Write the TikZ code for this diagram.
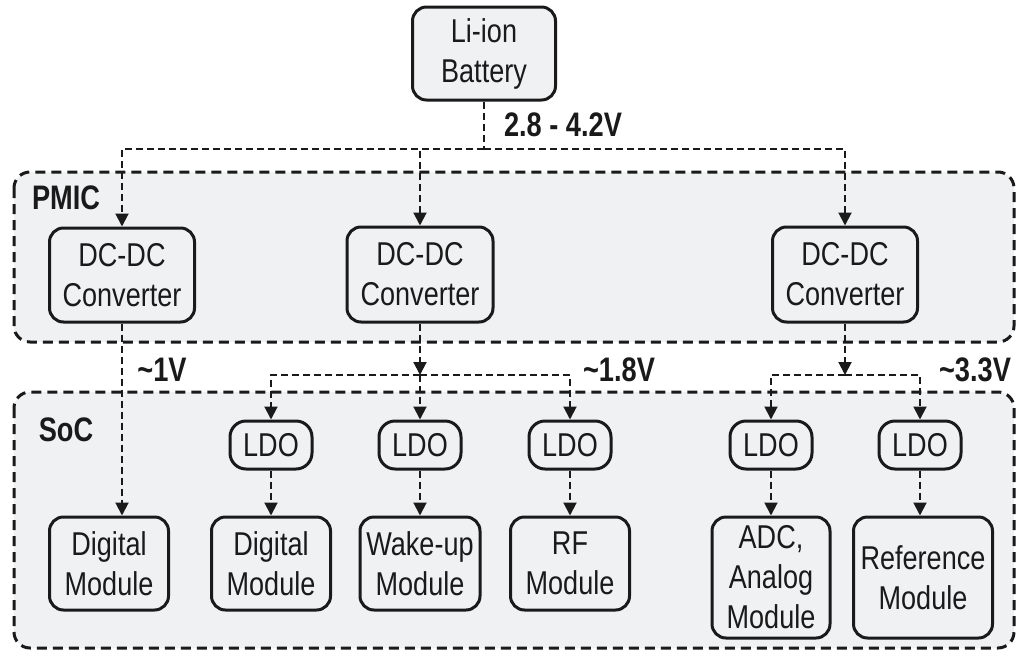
\documentclass[tikz,border=0pt]{standalone}
\usepackage{fontspec}
\setmainfont{Liberation Sans}[FakeStretch=0.82]
\newfontfamily\lblfont{Liberation Sans}[FakeStretch=0.8]
\usetikzlibrary{arrows.meta}
\definecolor{regionfill}{HTML}{F0F1F3}
\definecolor{ink}{HTML}{1A1A1A}
\tikzset{
  region/.style={draw=ink, line width=3pt, dash pattern=on 10pt off 6pt, fill=regionfill, rounded corners=16pt},
  blk/.style={draw=ink, line width=3pt, rounded corners=14pt, fill=regionfill, align=center, inner sep=0pt,
    font=\fontsize{33}{40}\selectfont, text=ink},
  ldoblk/.style={blk, rounded corners=16pt, minimum width=82pt, minimum height=48pt},
  conn/.style={draw=ink, line width=2pt, dash pattern=on 7pt off 4pt},
  arr/.style={-{Triangle[length=13pt,width=13pt]}},
  lbl/.style={font=\lblfont\bfseries\fontsize{34}{36}\selectfont, text=ink, inner sep=0pt},
}
\begin{document}
\begin{tikzpicture}[x=1pt,y=-1pt]
\useasboundingbox (0,0) rectangle (1018,651);
% regions
\path[region] (14,172) rectangle (1014,342);
\path[region] (14,392) rectangle (1014,648);
\node[lbl] (pmic) at (66,198) {PMIC};
\node[lbl] (soc) at (66,430) {SoC};
% battery
\node[blk, minimum width=143pt, minimum height=93pt] (bat) at (484,53.5) {Li-ion\\Battery};
% converters
\node[blk, minimum width=145pt, minimum height=94pt] (dc1) at (122,275) {DC-DC\\Converter};
\node[blk, minimum width=146pt, minimum height=95pt] (dc2) at (420,274.5) {DC-DC\\Converter};
\node[blk, minimum width=145pt, minimum height=95pt] (dc3) at (845,274.5) {DC-DC\\Converter};
% LDOs
\node[ldoblk] (ldo1) at (271,445) {LDO};
\node[ldoblk] (ldo2) at (420,445) {LDO};
\node[ldoblk] (ldo3) at (570,445) {LDO};
\node[ldoblk] (ldo4) at (771,445) {LDO};
\node[ldoblk] (ldo5) at (920,445) {LDO};
% modules
\node[blk, minimum width=119pt, minimum height=93pt] (dm1) at (109,563.5) {Digital\\Module};
\node[blk, minimum width=119pt, minimum height=93pt] (dm2) at (271,563.5) {Digital\\Module};
\node[blk, minimum width=120pt, minimum height=93pt] (wake) at (420,563.5) {Wake-up\\Module};
\node[blk, minimum width=119pt, minimum height=93pt] (rf) at (570,563.5) {RF\\Module};
\node[blk, minimum width=118pt, minimum height=121pt] (adc) at (771,577.5) {ADC,\\Analog\\Module};
\node[blk, minimum width=139pt, minimum height=121pt] (ref) at (923,577.5) {Reference\\Module};
% coordinates
\coordinate (bus) at (484,149);
\coordinate (j2) at (420,375);
\coordinate (j3) at (845,375);
% connectors
\draw[conn] (bat.south) -- (bus);
\draw[conn,arr] (bus) -| (dc1.north);
\draw[conn,arr] (bus) -| (dc2.north);
\draw[conn,arr] (bus) -| (dc3.north);
\draw[conn,arr] (dc1.south) -- (dc1.south |- dm1.north);
\draw[conn,arr] (dc2.south) -- (j2);
\draw[conn,arr] (j2) -- (ldo2.north);
\draw[conn,arr] (j2) -| (ldo1.north);
\draw[conn,arr] (j2) -| (ldo3.north);
\draw[conn,arr] (dc3.south) -- (j3);
\draw[conn,arr] (j3) -| (ldo4.north);
\draw[conn,arr] (j3) -| (ldo5.north);
\draw[conn,arr] (ldo1.south) -- (dm2.north);
\draw[conn,arr] (ldo2.south) -- (wake.north);
\draw[conn,arr] (ldo3.south) -- (rf.north);
\draw[conn,arr] (ldo4.south) -- (adc.north);
\draw[conn,arr] (ldo5.south) -- (ldo5.south |- ref.north);
% voltage labels
\node[lbl] (v1) at (563,125) {2.8 - 4.2V};
\node[lbl] (v2) at (162,370) {\textasciitilde 1V};
\node[lbl] (v3) at (619,370) {\textasciitilde 1.8V};
\node[lbl] (v4) at (975,370) {\textasciitilde 3.3V};
\end{tikzpicture}
\end{document}
